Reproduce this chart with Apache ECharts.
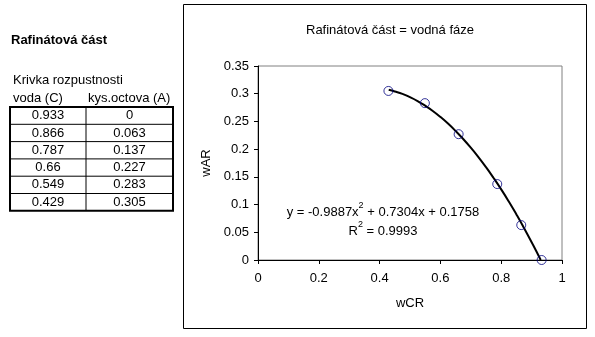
<!DOCTYPE html>
<html><head><meta charset="utf-8">
<script src="https://cdn.jsdelivr.net/npm/echarts@6/dist/echarts.min.js"></script>
<style>html,body{margin:0;padding:0;background:#fff}#c{width:595px;height:337px}</style>
</head><body><div id="c"></div>
<script>
// Data
var voda = [0.933, 0.866, 0.787, 0.66, 0.549, 0.429];      // wCR
var kysOctova = [0, 0.063, 0.137, 0.227, 0.283, 0.305];   // wAR
var voda_labels = ['0.933', '0.866', '0.787', '0.66', '0.549', '0.429'];
var kys_labels = ['0', '0.063', '0.137', '0.227', '0.283', '0.305'];
// trendline points
var trendX = [0.43, 0.45, 0.475, 0.5, 0.525, 0.55, 0.575, 0.6, 0.625, 0.65, 0.675, 0.7, 0.725, 0.75, 0.775, 0.8, 0.825, 0.85, 0.875, 0.905, 0.93];
var trendY = [0.307, 0.304, 0.2997, 0.2938, 0.2868, 0.2784, 0.2689, 0.2581, 0.2461, 0.2328, 0.2183, 0.2026, 0.1857, 0.1675, 0.148, 0.1274, 0.1055, 0.0823, 0.0579, 0.027, 0.0];
var xTicks = [0, 0.2, 0.4, 0.6, 0.8, 1];
var yTicks = [0, 0.05, 0.1, 0.15, 0.2, 0.25, 0.3, 0.35];

var F = 'Liberation Sans, Arial, sans-serif';
var FS = 13;
var chart = echarts.init(document.getElementById('c'), null, {renderer: 'canvas'});

var pts = voda.map(function (v, i) { return [v, kysOctova[i]]; });
var trend = trendX.map(function (v, i) { return [v, trendY[i]]; });

// table graphics
var g = [];
var tL = 10, tR = 173, tM = 86, tT = 107, rowH = 17.3;
g.push({type: 'rect', shape: {x: 183.5, y: 4.5, width: 403, height: 324}, style: {fill: 'none', stroke: '#000', lineWidth: 1}});
g.push({type: 'text', left: 11, top: 34, style: {text: 'Rafinátová část', font: 'bold ' + FS + 'px ' + F, fill: '#000'}});
g.push({type: 'text', left: 13, top: 74, style: {text: 'Krivka rozpustnosti', font: FS + 'px ' + F, fill: '#000'}});
g.push({type: 'text', left: 13, top: 92, style: {text: 'voda (C)', font: FS + 'px ' + F, fill: '#000'}});
g.push({type: 'text', left: 88, top: 92, style: {text: 'kys.octova (A)', font: FS + 'px ' + F, fill: '#000'}});
for (var i = 0; i < voda_labels.length; i++) {
  var cy = tT + rowH * (i + 0.5);
  g.push({type: 'text', x: (tL + tM) / 2, y: cy, style: {text: voda_labels[i], font: FS + 'px ' + F, fill: '#000', align: 'center', verticalAlign: 'middle'}});
  g.push({type: 'text', x: (tM + tR) / 2, y: cy, style: {text: kys_labels[i], font: FS + 'px ' + F, fill: '#000', align: 'center', verticalAlign: 'middle'}});
  if (i > 0) {
    g.push({type: 'line', shape: {x1: tL, y1: tT + rowH * i, x2: tR, y2: tT + rowH * i}, style: {stroke: '#000', lineWidth: 1}});
  }
}
var tB = tT + rowH * voda_labels.length;
g.push({type: 'line', shape: {x1: tM, y1: tT, x2: tM, y2: tB}, style: {stroke: '#000', lineWidth: 1}});
g.push({type: 'rect', shape: {x: tL, y: tT, width: tR - tL, height: tB - tT}, style: {fill: 'none', stroke: '#000', lineWidth: 2}});
// trendline equation
var rich = {
  n: {fontFamily: F, fontSize: FS, fill: '#000', color: '#000', lineHeight: 17, verticalAlign: 'bottom'},
  s: {fontFamily: F, fontSize: 9, fill: '#000', color: '#000', lineHeight: 9, verticalAlign: 'top'}
};
g.push({type: 'text', x: 383, y: 210, style: {
  text: '{n|y = -0.9887x}{s|2}{n| + 0.7304x + 0.1758}',
  align: 'center', verticalAlign: 'middle', rich: rich
}});
g.push({type: 'text', x: 383, y: 229, style: {
  text: '{n|R}{s|2}{n| = 0.9993}',
  align: 'center', verticalAlign: 'middle', rich: rich
}});

chart.setOption({
  animation: false,
  title: {text: 'Rafinátová část = vodná fáze', left: 385, top: 19, textAlign: 'center',
    textStyle: {fontFamily: F, fontSize: FS, fontWeight: 'normal', color: '#000'}},
  grid: {left: 258, top: 66, width: 304, height: 194, show: true, borderColor: '#808080', borderWidth: 1, backgroundColor: 'transparent'},
  xAxis: {type: 'value', min: 0, max: 1, interval: 0.2,
    name: 'wCR', nameLocation: 'middle', nameGap: 37,
    nameTextStyle: {fontFamily: F, fontSize: FS, color: '#000'},
    axisLine: {show: true, onZero: false, lineStyle: {color: '#000', width: 1}},
    axisTick: {show: true, length: 4, lineStyle: {color: '#000'}},
    axisLabel: {fontFamily: F, fontSize: FS, color: '#000', margin: 12},
    splitLine: {show: false}},
  yAxis: {type: 'value', min: 0, max: 0.35, interval: 0.05,
    name: 'wAR', nameLocation: 'middle', nameGap: 35, nameRotate: 90,
    nameTextStyle: {fontFamily: F, fontSize: FS, color: '#000'},
    axisLine: {show: true, onZero: false, lineStyle: {color: '#000', width: 1}},
    axisTick: {show: true, length: 4, lineStyle: {color: '#000'}},
    axisLabel: {fontFamily: F, fontSize: FS, color: '#000', margin: 9},
    splitLine: {show: false}},
  series: [
    {type: 'line', data: trend, showSymbol: false, symbol: 'none', smooth: true,
      lineStyle: {color: '#000', width: 2}, z: 2},
    {type: 'scatter', data: pts, symbol: 'circle', symbolSize: 9,
      itemStyle: {color: 'rgba(255,255,255,0)', borderColor: '#000080', borderWidth: 1}, z: 3}
  ],
  graphic: g
});
</script></body></html>
